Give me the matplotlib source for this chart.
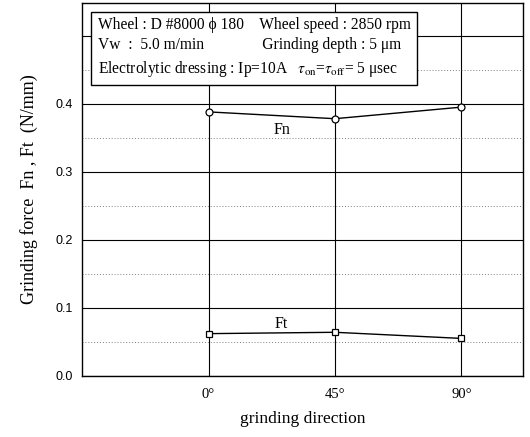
import matplotlib
matplotlib.use('Agg')
import matplotlib.pyplot as plt

plt.rcParams['font.family'] = ['Liberation Serif', 'DejaVu Serif']
plt.rcParams['mathtext.fontset'] = 'stix'

# data
directions = [0, 45, 90]
dir_labels = ['0°', '45°', '90°']
fn = [0.388, 0.378, 0.395]
ft = [0.062, 0.064, 0.055]
y_major = [0.0, 0.1, 0.2, 0.3, 0.4, 0.5]
y_labels = ['0.0', '0.1', '0.2', '0.3', '0.4', '']
y_minor = [0.05, 0.15, 0.25, 0.35, 0.45]

fig = plt.figure(figsize=(5.30, 4.37), dpi=100)
ax = fig.add_axes([0.155, 0.14, 0.832, 0.853])

ax.plot(directions, fn, color='black', lw=1.0, marker='o', ms=5,
        mfc='white', mec='black', mew=0.9, zorder=3)
ax.plot(directions, ft, color='black', lw=1.0, marker='s', ms=5,
        mfc='white', mec='black', mew=0.9, zorder=3)

ax.set_xlim(-45, 112)
ax.set_ylim(0, 0.548)
ax.set_xticks(directions)
ax.set_xticklabels(dir_labels, fontsize=10.5)
ax.set_yticks(y_major)
ax.set_yticklabels(y_labels, fontsize=9, family='Liberation Sans')
ax.set_yticks(y_minor, minor=True)
ax.tick_params(axis='y', which='both', length=0, pad=7)
ax.tick_params(axis='x', which='both', length=0, pad=9)
ax.grid(True, which='major', color='black', lw=0.8)
ax.grid(True, which='minor', axis='y', color='gray', lw=0.7, ls=(0, (1, 2)))
ax.set_axisbelow(True)
for s in ax.spines.values():
    s.set_linewidth(1.0)

ax.text(26, 0.362, 'Fn', fontsize=11.5, ha='center', va='center')
ax.text(26, 0.076, 'Ft', fontsize=11.5, ha='center', va='center')

ax.set_xlabel('grinding direction', fontsize=12.5, labelpad=7)
ax.set_ylabel('Grinding force  Fn , Ft  (N/mm)', fontsize=13, labelpad=12)

info = ('Wheel : D #8000 ϕ 180    Wheel speed : 2850 rpm\n'
        'Vw  :  5.0 m/min               Grinding depth : 5 μm\n'
        r'Electrolytic dressing : Ip=10A   $\tau_{\rm on}$=$\tau_{\rm off}$= 5 μsec')
ax.text(-39.5, 0.528, info, fontsize=11.2, va='top', ha='left', linespacing=1.4,
        bbox=dict(boxstyle='square,pad=0.4', fc='white', ec='black', lw=1.0),
        zorder=5)

fig.savefig('out.png', dpi=100)
